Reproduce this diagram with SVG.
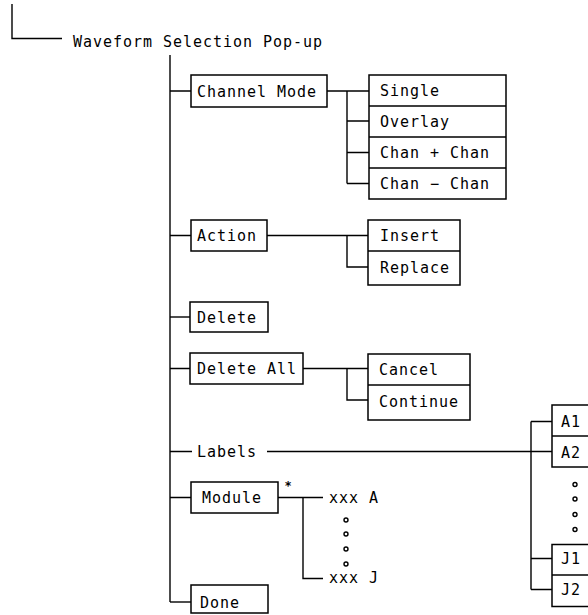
<svg xmlns="http://www.w3.org/2000/svg" width="588" height="615" viewBox="0 0 588 615">
<style>
  text { font-family: "DejaVu Sans Mono", "Liberation Mono", monospace; font-size: 15px; letter-spacing: 0.97px; fill: #000; }
  .box { fill: #fff; stroke: #000; stroke-width: 1.5; }
  .ln { fill: none; stroke: #000; stroke-width: 1.4; }
  .dot { fill: #fff; stroke: #000; stroke-width: 1.4; }
  .ast { font-size: 12px; font-weight: bold; letter-spacing: 0; }
</style>
<rect width="588" height="615" fill="#fff"/>
<g id="connectors" class="ln">
  <path d="M12,4 V38.5 H62"/>
  <path d="M170,55 V602"/>
  <path d="M170,91 H191 M327,91 H369 M347,91 V183.5 M347,121 H369 M347,152.5 H369 M347,183.5 H369"/>
  <path d="M170,235.5 H191 M267,235.5 H368 M347,235.5 V267 H368"/>
  <path d="M170,317 H190"/>
  <path d="M170,368.5 H190 M303,368.5 H368 M347,368.5 V400 H368"/>
  <path d="M170,451.5 H192 M267,451.5 H552 M531,421.5 V589.5 M531,421.5 H552 M531,558.5 H552 M531,589.5 H552"/>
  <path d="M170,497.5 H191 M278,497.5 H323 M303,497.5 V578.5 H323"/>
  <path d="M170,602 H191"/>
</g>
<g id="root">
  <text x="73" y="46.5">Waveform Selection Pop-up</text>
</g>
<g id="channel-mode">
  <rect class="box" x="191" y="75" width="136" height="32"/>
  <text x="197" y="96.5">Channel Mode</text>
</g>
<g id="channel-mode-options">
  <rect class="box" x="369" y="75" width="137" height="124"/>
  <path class="ln" d="M369,106 H506 M369,137 H506 M369,168 H506"/>
  <text x="380" y="95.5">Single</text>
  <text x="380" y="126.5">Overlay</text>
  <text x="380" y="157.5">Chan + Chan</text>
  <text x="380" y="188.5">Chan − Chan</text>
</g>
<g id="action">
  <rect class="box" x="191" y="220" width="76" height="31"/>
  <text x="197" y="241">Action</text>
</g>
<g id="action-options">
  <rect class="box" x="368" y="220" width="92" height="65"/>
  <path class="ln" d="M368,251 H460"/>
  <text x="380" y="241">Insert</text>
  <text x="380" y="273">Replace</text>
</g>
<g id="delete">
  <rect class="box" x="190" y="302" width="78" height="30"/>
  <text x="197" y="322.5">Delete</text>
</g>
<g id="delete-all">
  <rect class="box" x="190" y="353" width="113" height="31"/>
  <text x="197" y="374">Delete All</text>
</g>
<g id="delete-all-options">
  <rect class="box" x="368" y="354" width="102" height="66"/>
  <path class="ln" d="M368,385 H470"/>
  <text x="379" y="375">Cancel</text>
  <text x="379" y="406.5">Continue</text>
</g>
<g id="labels">
  <text x="197" y="457">Labels</text>
</g>
<g id="label-list">
  <rect class="box" x="552" y="405" width="60" height="62"/>
  <path class="ln" d="M552,436 H612"/>
  <text x="561" y="426.5">A1</text>
  <text x="561" y="457.5">A2</text>
  <circle class="dot" cx="575" cy="484.5" r="2"/>
  <circle class="dot" cx="575" cy="499" r="2"/>
  <circle class="dot" cx="575" cy="514.5" r="2"/>
  <circle class="dot" cx="575" cy="529.5" r="2"/>
  <rect class="box" x="552" y="544.5" width="60" height="62"/>
  <path class="ln" d="M552,575 H612"/>
  <text x="561" y="564">J1</text>
  <text x="561" y="595">J2</text>
</g>
<g id="module">
  <rect class="box" x="191" y="482" width="87" height="31"/>
  <text x="202" y="503">Module</text>
  <text class="ast" x="288" y="490" text-anchor="middle">*</text>
</g>
<g id="module-list">
  <text x="329" y="503">xxx A</text>
  <circle class="dot" cx="346" cy="520" r="2"/>
  <circle class="dot" cx="346" cy="534" r="2"/>
  <circle class="dot" cx="346" cy="549" r="2"/>
  <circle class="dot" cx="346" cy="564" r="2"/>
  <text x="329" y="583">xxx J</text>
</g>
<g id="done">
  <rect class="box" x="191" y="585" width="77" height="28"/>
  <text x="200" y="608">Done</text>
</g>
</svg>
